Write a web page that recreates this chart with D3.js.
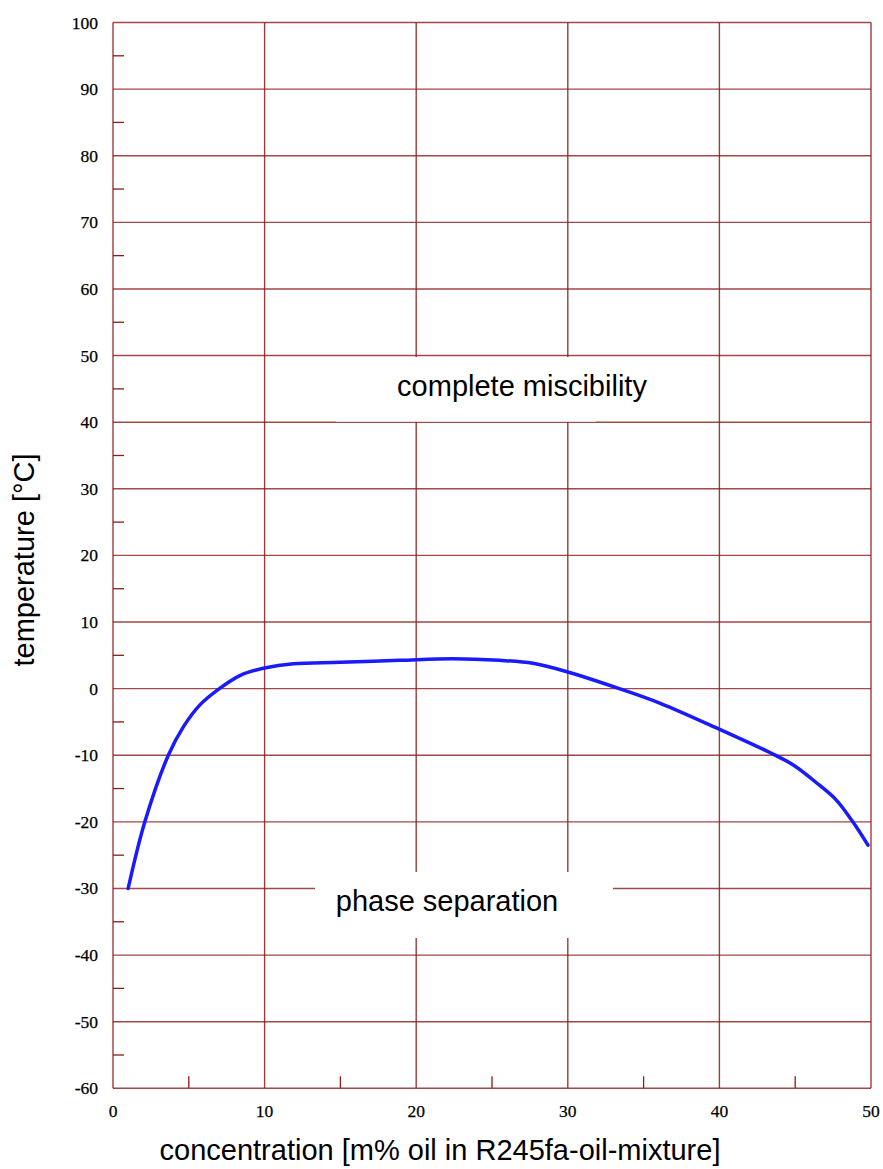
<!DOCTYPE html>
<html>
<head>
<meta charset="utf-8">
<script src="https://cdn.jsdelivr.net/npm/d3@7"></script>
<style>
  body { margin: 0; background: #fff; }
  svg { display: block; }
</style>
</head>
<body>
<script>
// miscibility curve of R245fa-oil mixture
var conc = [1, 2.1, 3.65, 4.65, 5.75, 6.95, 8.4, 10, 11.9, 15, 18.9, 22.4, 25.5, 27.7, 30, 33.4, 36.1, 40, 43.6, 44.9, 46.6, 47.7, 48.8, 49.8];
var temp = [-30, -20, -10, -5.7, -2.4, -0.1, 2.0, 3.1, 3.75, 3.95, 4.25, 4.5, 4.25, 3.8, 2.5, 0, -2.2, -6.1, -9.9, -11.5, -14.5, -16.7, -20, -23.5];

var xTicks = [0, 10, 20, 30, 40, 50];
var yTicks = [100, 90, 80, 70, 60, 50, 40, 30, 20, 10, 0, -10, -20, -30, -40, -50, -60];
var xMinor = [5, 15, 25, 35, 45];
var yMinor = [95, 85, 75, 65, 55, 45, 35, 25, 15, 5, -5, -15, -25, -35, -45, -55];

var W = 883, H = 1169;
var pLeft = 113, pRight = 871, pTop = 22.5, pBottom = 1088.3;
var grid = "#8b1a1a";

var svg = d3.select("body").append("svg").attr("width", W).attr("height", H);

var x = d3.scaleLinear().domain([0, 50]).range([pLeft, pRight]);
var y = d3.scaleLinear().domain([-60, 100]).range([pBottom, pTop]);

// grid lines
var g = svg.append("g");
g.selectAll("line.h").data(yTicks).enter().append("line")
  .attr("x1", pLeft).attr("x2", pRight)
  .attr("y1", d => y(d)).attr("y2", d => y(d))
  .attr("stroke", grid).attr("stroke-opacity", 0.8).attr("stroke-width", 1.4);
g.selectAll("line.v").data(xTicks).enter().append("line")
  .attr("x1", d => x(d)).attr("x2", d => x(d))
  .attr("y1", pTop).attr("y2", pBottom)
  .attr("stroke", grid).attr("stroke-opacity", 0.85).attr("stroke-width", 1.4);

// minor ticks, inside the frame
g.selectAll("line.ym").data(yMinor).enter().append("line")
  .attr("x1", pLeft).attr("x2", pLeft + 11)
  .attr("y1", d => y(d)).attr("y2", d => y(d))
  .attr("stroke", grid).attr("stroke-width", 1.3);
g.selectAll("line.xm").data(xMinor).enter().append("line")
  .attr("x1", d => x(d)).attr("x2", d => x(d))
  .attr("y1", pBottom).attr("y2", pBottom - 12)
  .attr("stroke", grid).attr("stroke-width", 1.3);

// white boxes behind the region labels
svg.append("rect").attr("x", 336).attr("y", y(50) + 1.5)
  .attr("width", 260).attr("height", y(40) - y(50) - 2).attr("fill", "#fff");
svg.append("rect").attr("x", 315).attr("y", 872)
  .attr("width", 298).attr("height", 66).attr("fill", "#fff");

// tick labels
var serif = "Liberation Serif, Times New Roman, serif";
svg.append("g").selectAll("text").data(yTicks).enter().append("text")
  .attr("x", 98).attr("y", d => y(d) + 6)
  .attr("text-anchor", "end")
  .attr("font-family", serif)
  .attr("font-size", 17.5).attr("fill", "#000")
  .attr("stroke", "#000").attr("stroke-width", 0.25)
  .text(d => d);
svg.append("g").selectAll("text").data(xTicks).enter().append("text")
  .attr("x", d => x(d)).attr("y", 1117)
  .attr("text-anchor", "middle")
  .attr("font-family", serif)
  .attr("font-size", 17.5).attr("fill", "#000")
  .attr("stroke", "#000").attr("stroke-width", 0.25)
  .text(d => d);

// curve
var pts = conc.map((c, i) => [c, temp[i]]);
svg.append("path").datum(pts)
  .attr("d", d3.line().x(d => x(d[0])).y(d => y(d[1])).curve(d3.curveCatmullRom))
  .attr("fill", "none").attr("stroke", "#1a1aff").attr("stroke-width", 3.5)
  .attr("stroke-linecap", "round");

// region labels
var sans = "Liberation Sans, Arial, sans-serif";
svg.append("text").attr("x", 522).attr("y", 396).attr("text-anchor", "middle")
  .attr("font-family", sans).attr("font-size", 29).text("complete miscibility");
svg.append("text").attr("x", 447).attr("y", 911).attr("text-anchor", "middle")
  .attr("font-family", sans).attr("font-size", 29).text("phase separation");

// axis titles
svg.append("text").attr("x", 440).attr("y", 1160).attr("text-anchor", "middle")
  .attr("font-family", sans).attr("font-size", 29)
  .text("concentration [m% oil in R245fa-oil-mixture]");
svg.append("text")
  .attr("transform", "translate(34,560) rotate(-90)")
  .attr("text-anchor", "middle")
  .attr("font-family", sans).attr("font-size", 29)
  .text("temperature [°C]");
</script>
</body>
</html>
